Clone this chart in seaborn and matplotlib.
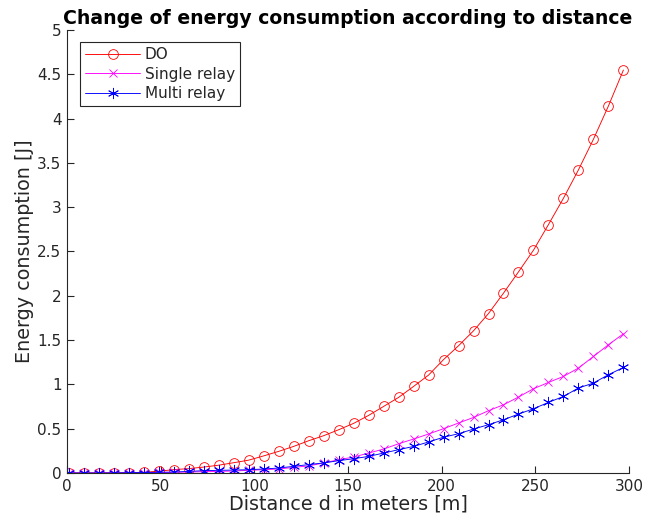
import matplotlib
matplotlib.use("Agg")
import matplotlib.pyplot as plt
import seaborn as sns
import pandas as pd
import numpy as np

distance = list(range(1, 298, 8))
do_energy = [0, 0, 0, 0.001, 0.003, 0.008, 0.02, 0.038, 0.049, 0.067, 0.088, 0.116,
             0.145, 0.193, 0.244, 0.30, 0.364, 0.421, 0.488, 0.560, 0.650, 0.751,
             0.853, 0.977, 1.105, 1.28, 1.436, 1.605, 1.80, 2.03, 2.27, 2.515,
             2.804, 3.101, 3.421, 3.767, 4.142, 4.548]
single_energy = [0, 0, 0, 0.001, 0.002, 0.004, 0.006, 0.008, 0.011, 0.014, 0.018,
                 0.022, 0.03, 0.037, 0.045, 0.063, 0.08, 0.113, 0.15, 0.18, 0.225,
                 0.27, 0.33, 0.383, 0.44, 0.50, 0.564, 0.627, 0.703, 0.77, 0.857,
                 0.951, 1.022, 1.09, 1.184, 1.315, 1.447, 1.571]
multi_energy = [0, 0, 0, 0.001, 0.003, 0.005, 0.008, 0.01, 0.018, 0.026, 0.03,
                0.033, 0.037, 0.045, 0.056, 0.075, 0.095, 0.113, 0.139, 0.161,
                0.187, 0.225, 0.263, 0.30, 0.35, 0.404, 0.443, 0.496, 0.545,
                0.601, 0.665, 0.725, 0.797, 0.864, 0.959, 1.015, 1.109, 1.191]

series = ["DO", "Single relay", "Multi relay"]
colors = ["#ff0000", "#ff00ff", "#0000ff"]
markers = ["o", "x", (6, 2, 0)]
sizes = [7, 6, 8]

sns.set_style("white")
plt.rcParams['font.family'] = ['DejaVu Sans']

fig = plt.figure(figsize=(6.48, 5.22), dpi=100)
ax = fig.add_axes([0.1034, 0.0939, 0.8673, 0.8486])

for name, vals, col, mk, ms in zip(series, [do_energy, single_energy, multi_energy],
                                   colors, markers, sizes):
    df = pd.DataFrame({"d": distance, "E": vals})
    sns.lineplot(data=df, x="d", y="E", ax=ax, color=col, marker=mk, markersize=ms,
                 markerfacecolor="none", markeredgecolor=col, markeredgewidth=0.6,
                 linewidth=0.65, label=name)

ax.set_xlim(0, 300)
ax.set_ylim(0, 5)
ax.set_xticks(np.arange(0, 301, 50))
ax.set_yticks(np.arange(0, 5.01, 0.5))
ax.set_yticklabels(["0", "0.5", "1", "1.5", "2", "2.5", "3", "3.5", "4", "4.5", "5"])
for s in ["top", "right"]:
    ax.spines[s].set_visible(False)
for s in ["left", "bottom"]:
    ax.spines[s].set_color("#262626")
    ax.spines[s].set_linewidth(0.8)
ax.tick_params(direction="in", length=5, width=0.8, colors="#262626", labelsize=11,
               left=True, bottom=True, pad=4)
ax.set_xlabel("Distance d in meters [m]", fontsize=13.8, color="#262626", labelpad=1)
ax.set_ylabel("Energy consumption [J]", fontsize=13.8, color="#262626", labelpad=2)
ax.set_title("Change of energy consumption according to distance", fontsize=13.6,
             fontweight="bold", color="black", pad=4)

leg = ax.legend(loc="upper left", bbox_to_anchor=(0.023, 0.973), fontsize=11,
                fancybox=False, framealpha=1, edgecolor="#262626", borderpad=0.35,
                labelspacing=0.28, handlelength=3.6, handletextpad=0.3,
                borderaxespad=0)
leg.get_frame().set_linewidth(0.8)

fig.savefig("out.png", dpi=100)
